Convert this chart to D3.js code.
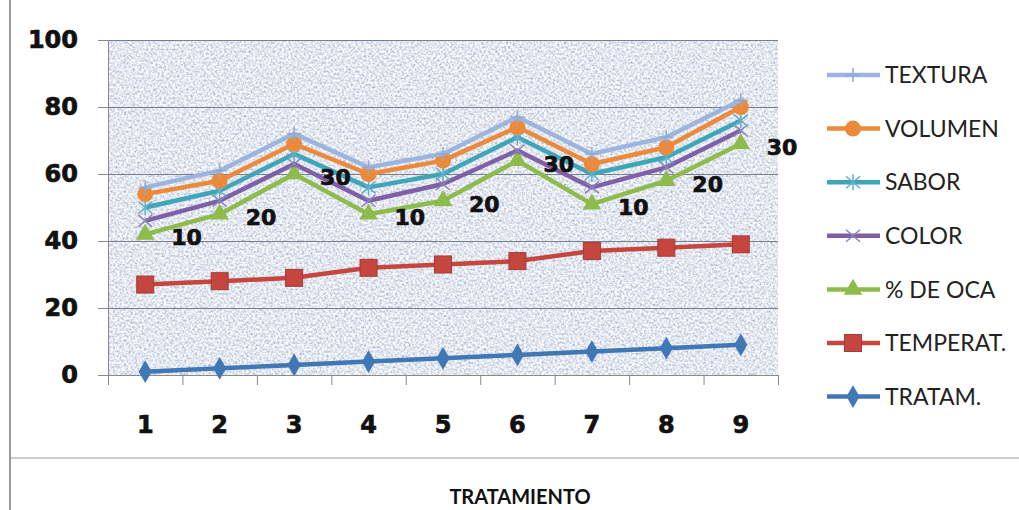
<!DOCTYPE html>
<html>
<head>
<meta charset="utf-8">
<script src="https://cdn.jsdelivr.net/npm/d3@7"></script>
<style>
  body { margin: 0; background: #fff; }
  svg { display: block; }
</style>
</head>
<body>
<script>
const svgWidth = 1019
const svgHeight = 510

// data
const tratamientos = [1, 2, 3, 4, 5, 6, 7, 8, 9]
const textura  = [56, 61, 72, 62, 66, 77, 66, 71, 82]
const volumen  = [54, 58, 69, 60, 64, 74, 63, 68, 80]
const sabor    = [50, 55, 66, 56, 60, 71, 60, 65, 76]
const color    = [46, 52, 63, 52, 57, 67, 56, 62, 73]
const pctOca   = [42, 48, 60, 48, 52, 64, 51, 58, 69]
const temperat = [27, 28, 29, 32, 33, 34, 37, 38, 39]
const tratam   = [1, 2, 3, 4, 5, 6, 7, 8, 9]
const ocaLabels = ["10", "20", "30", "10", "20", "30", "10", "20", "30"]
const yTicks = [0, 20, 40, 60, 80, 100]

const series = [
  { name: "TEXTURA",   values: textura,  stroke: "#9bb5de", marker: "plus" },
  { name: "VOLUMEN",   values: volumen,  stroke: "#ec8a3c", marker: "circle" },
  { name: "SABOR",     values: sabor,    stroke: "#3fa6b8", marker: "star" },
  { name: "COLOR",     values: color,    stroke: "#7f5fa6", marker: "x" },
  { name: "% DE OCA",  values: pctOca,   stroke: "#8dbb4c", marker: "triangle" },
  { name: "TEMPERAT.", values: temperat, stroke: "#c4463f", marker: "square" },
  { name: "TRATAM.",   values: tratam,   stroke: "#3f78b5", marker: "diamond" }
]

const plot = { left: 108, right: 778, top: 40, bottom: 375 }

const svg = d3.select("body").append("svg")
  .attr("width", svgWidth)
  .attr("height", svgHeight)

// grainy blue fill of the plot area
const defs = svg.append("defs")
const grain = defs.append("filter").attr("id", "grain")
  .attr("x", 0).attr("y", 0).attr("width", 1).attr("height", 1)
grain.append("feTurbulence")
  .attr("type", "fractalNoise")
  .attr("baseFrequency", 0.45)
  .attr("numOctaves", 2)
  .attr("seed", 7)
grain.append("feColorMatrix")
  .attr("type", "matrix")
  .attr("values", "1.1 0 0 0 0.22  1.0 0 0 0 0.30  0.8 0 0 0 0.47  0 0 0 0 1")

// page frame lines
svg.append("line")
  .attr("x1", 10).attr("x2", 10).attr("y1", 0).attr("y2", svgHeight)
  .attr("stroke", "#9a9a9a").attr("stroke-width", 2)
svg.append("line")
  .attr("x1", 10).attr("x2", svgWidth).attr("y1", 458).attr("y2", 458)
  .attr("stroke", "#9a9a9a").attr("stroke-width", 1)

const x = d3.scaleBand()
  .domain(tratamientos)
  .range([plot.left, plot.right])
  .padding(0)
const xEdge = d3.scaleLinear().domain([0, 9]).range([plot.left, plot.right])
const y = d3.scaleLinear().domain([0, 100]).range([plot.bottom, plot.top])
const cx = d => x(d) + x.bandwidth() / 2

svg.append("rect")
  .attr("x", plot.left).attr("y", plot.top)
  .attr("width", plot.right - plot.left).attr("height", plot.bottom - plot.top)
  .attr("fill", "#c0cde3")
svg.append("rect")
  .attr("x", plot.left).attr("y", plot.top)
  .attr("width", plot.right - plot.left).attr("height", plot.bottom - plot.top)
  .attr("filter", "url(#grain)")

// gridlines
svg.append("g")
  .attr("transform", `translate(${plot.left},0)`)
  .call(d3.axisLeft(y).tickValues(yTicks).tickSize(-(plot.right - plot.left)).tickFormat(""))
  .call(g => g.select(".domain").remove())
  .call(g => g.selectAll("line").attr("stroke", "#76808f").attr("stroke-width", 1))

const boldNum = sel => sel
  .attr("font-family", "DejaVu Sans")
  .attr("font-weight", "bold")
  .attr("fill", "#111")
  .attr("stroke", "#111")
  .attr("stroke-width", 0.7)

// y axis
svg.append("g")
  .attr("transform", `translate(${plot.left},0)`)
  .call(d3.axisLeft(y).tickValues(yTicks).tickSize(10).tickPadding(20))
  .call(g => g.select(".domain").attr("stroke", "#8a8a8a"))
  .call(g => g.selectAll("line").attr("stroke", "#8a8a8a"))
  .call(g => g.selectAll("text").call(boldNum).attr("font-size", 24))

// x axis: boundary ticks and centred labels
svg.append("g")
  .attr("transform", `translate(0,${plot.bottom})`)
  .call(d3.axisBottom(xEdge).ticks(9).tickSize(10).tickFormat(""))
  .call(g => g.selectAll("line").attr("stroke", "#8a8a8a"))
  .call(g => g.select(".domain").attr("stroke", "#8a8a8a"))
svg.append("g")
  .attr("transform", `translate(0,${plot.bottom})`)
  .call(d3.axisBottom(x).tickSize(0).tickPadding(41))
  .call(g => g.select(".domain").remove())
  .call(g => g.selectAll("text").call(boldNum).attr("font-size", 24))

const line = d3.line()
  .x((d, i) => cx(tratamientos[i]))
  .y(d => y(d))

const drawMarker = (g, type, stroke) => {
  if (type === "circle") {
    g.append("circle").attr("r", 8).attr("fill", stroke)
  } else if (type === "square") {
    g.append("rect").attr("x", -8.5).attr("y", -8.5).attr("width", 17).attr("height", 17)
      .attr("fill", stroke).attr("stroke", "#a83a35").attr("stroke-width", 1)
  } else if (type === "diamond") {
    g.append("path").attr("d", d3.symbol(d3.symbolDiamond, 150)()).attr("fill", stroke)
  } else if (type === "triangle") {
    g.append("path").attr("d", d3.symbol(d3.symbolTriangle, 150)()).attr("fill", stroke)
  } else if (type === "plus") {
    g.append("path").attr("d", "M-7,0H7M0,-7V7").attr("stroke", "#8eaad6").attr("stroke-width", 1.5)
  } else if (type === "x") {
    g.append("path").attr("d", "M-7,-6L7,6M-7,6L7,-6").attr("stroke", "#8a84b8").attr("stroke-width", 1.5)
  } else if (type === "star") {
    g.append("path").attr("d", "M-7,-6L7,6M-7,6L7,-6M0,-8V8").attr("stroke", "#5fb0c8").attr("stroke-width", 1.5)
  }
}

// draw bottom series first so upper lines lie on top like the original
const drawOrder = series.slice().reverse()
drawOrder.forEach(s => {
  const g = svg.append("g")
  g.append("path")
    .datum(s.values)
    .attr("d", line)
    .attr("fill", "none")
    .attr("stroke", s.stroke)
    .attr("stroke-width", 4.5)
    .attr("stroke-linejoin", "round")
  g.selectAll("g.marker")
    .data(s.values)
    .enter()
    .append("g")
    .attr("class", "marker")
    .attr("transform", (d, i) => `translate(${cx(tratamientos[i])},${y(d)})`)
    .each(function () { drawMarker(d3.select(this), s.marker, s.stroke) })
})

// data labels of % DE OCA
svg.append("g").selectAll("text")
  .data(pctOca)
  .enter()
  .append("text")
  .attr("x", (d, i) => cx(tratamientos[i]) + 26)
  .attr("y", d => y(d) + 11)
  .call(boldNum)
  .attr("font-size", 22)
  .text((d, i) => ocaLabels[i])

// legend
const legend = svg.append("g")
series.forEach((s, i) => {
  const ly = 75 + i * 53.6
  const row = legend.append("g").attr("transform", `translate(0,${ly})`)
  row.append("line")
    .attr("x1", 827).attr("x2", 880)
    .attr("stroke", s.stroke).attr("stroke-width", 4.5)
  const m = row.append("g").attr("transform", "translate(853,0)")
  drawMarker(m, s.marker, s.stroke)
  row.append("text")
    .attr("x", 885).attr("y", 0).attr("dy", "0.36em")
    .attr("font-family", "Lato")
    .attr("font-size", 23)
    .attr("fill", "#222")
    .text(s.name)
})

svg.append("text")
  .attr("x", 520).attr("y", 504)
  .attr("text-anchor", "middle")
  .attr("font-family", "Lato")
  .attr("font-weight", "bold")
  .attr("font-size", 20)
  .attr("fill", "#111")
  .text("TRATAMIENTO")
</script>
</body>
</html>
